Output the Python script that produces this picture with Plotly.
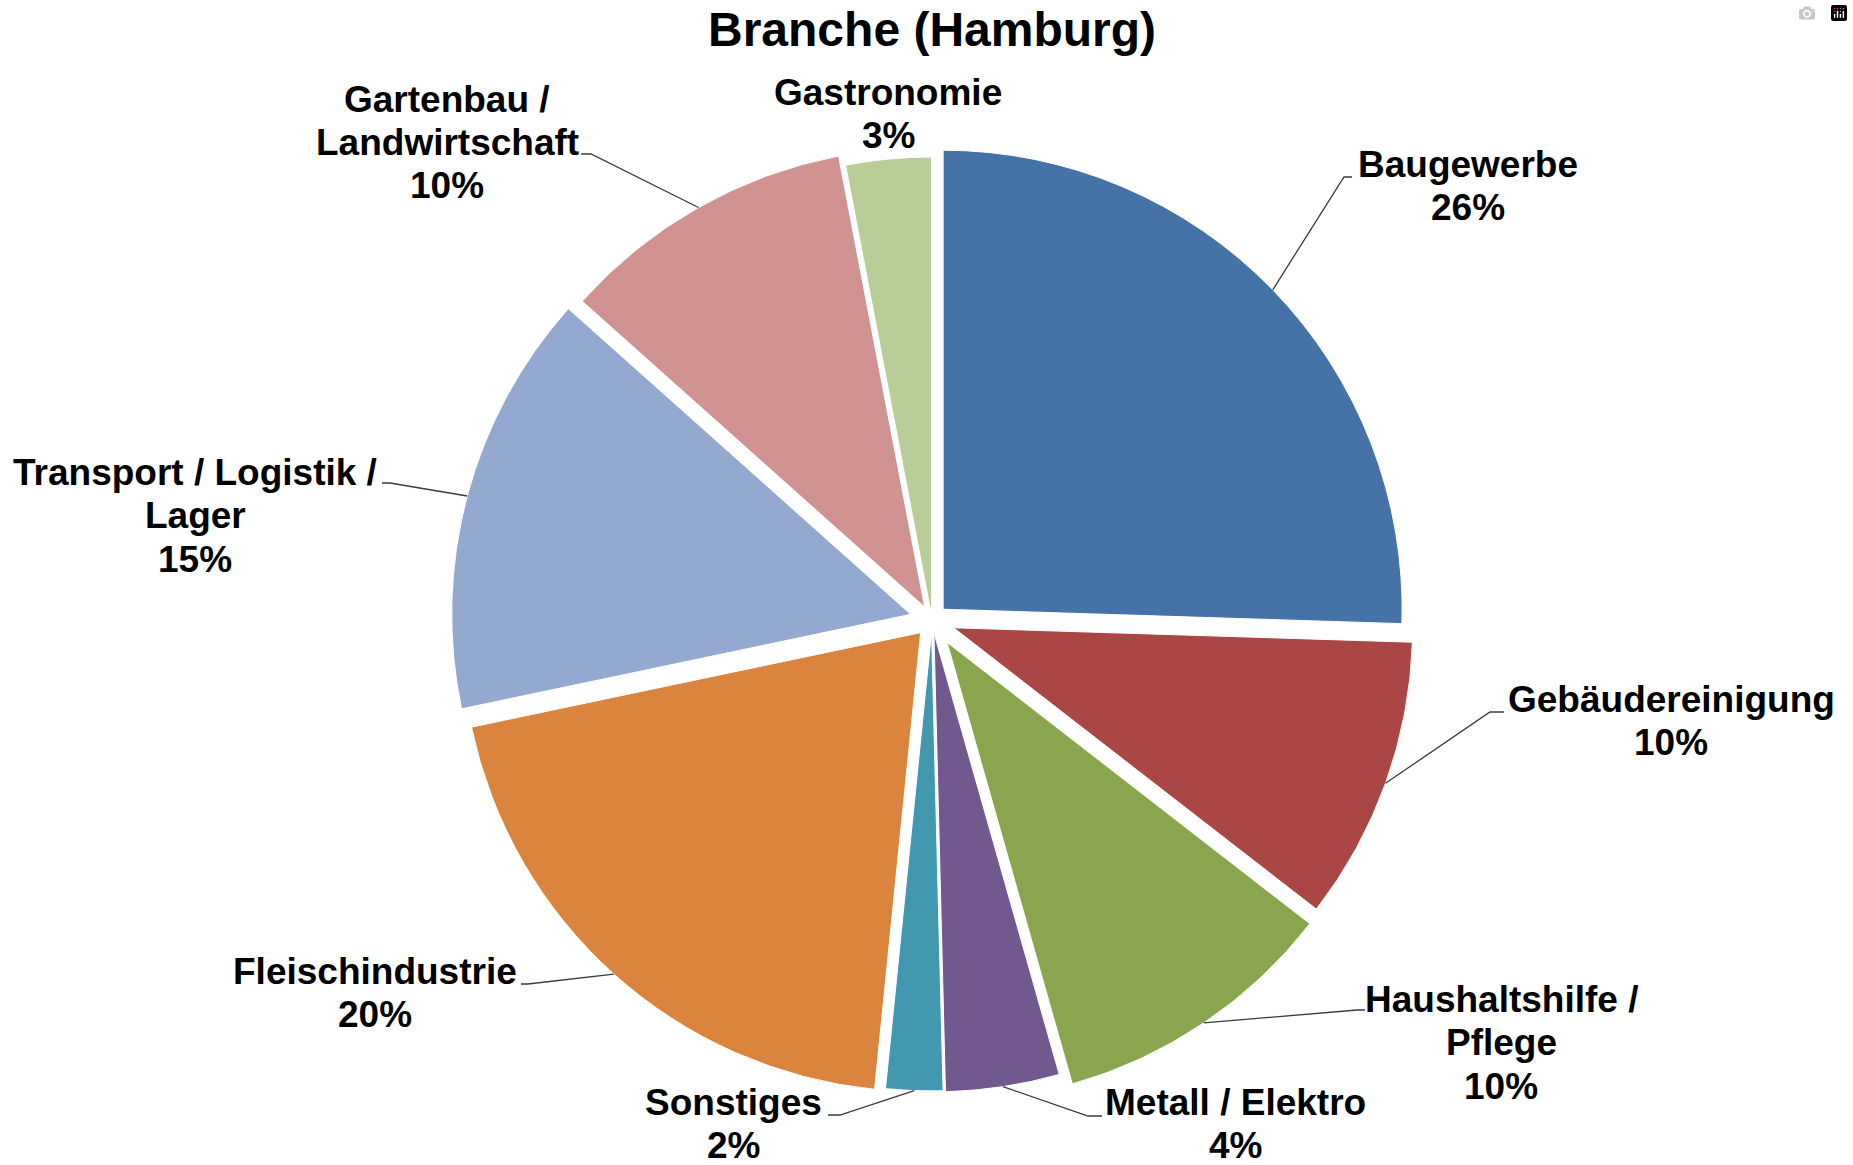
import math
import plotly.graph_objects as go

# ---------------- data ----------------
categories = ["Baugewerbe", "Gebäudereinigung", "Haushaltshilfe / Pflege", "Metall / Elektro",
              "Sonstiges", "Fleischindustrie", "Transport / Logistik / Lager",
              "Gartenbau / Landwirtschaft", "Gastronomie"]
label_lines = [["Baugewerbe"], ["Gebäudereinigung"], ["Haushaltshilfe /", "Pflege"],
               ["Metall / Elektro"], ["Sonstiges"], ["Fleischindustrie"],
               ["Transport / Logistik /", "Lager"], ["Gartenbau /", "Landwirtschaft"],
               ["Gastronomie"]]
values = [25.5, 10.0, 10.1, 4.0, 2.0, 20.1, 14.9, 10.4, 3.0]
title_text = "Branche (Hamburg)"

# ---------------- styles / layout ----------------
colors = ["#4572A7", "#AA4643", "#89A54E", "#71588F", "#4198AF",
          "#DB843D", "#93A9CF", "#D19392", "#B9CD96"]
# explosion of each slice, in pixels
pull_px = [15.5, 23, 27, 13, 12, 17, 22, 15, 4]
W, H = 1853, 1165
CX, CY, R = 932, 620, 459
FONT = "Liberation Sans, Arial, sans-serif"
FS = 37
LINE_H = 43.5

# label placement (pixel coords): centre x, first line y, leader end points (bend, end)
label_layout = {
    "Baugewerbe": (1468, 164, [(1344, 177), (1352, 177)]),
    "Gebäudereinigung": (1671, 699, [(1490, 712), (1504, 712)]),
    "Haushaltshilfe / Pflege": (1501, 999, [(1357, 1010), (1365, 1010)]),
    "Metall / Elektro": (1235, 1102, [(1088, 1116), (1102, 1116)]),
    "Sonstiges": (733, 1102, [(840, 1115), (828, 1115)]),
    "Fleischindustrie": (375, 971, [(528, 984), (521, 984)]),
    "Transport / Logistik / Lager": (195, 472, [(390, 483), (382, 483)]),
    "Gartenbau / Landwirtschaft": (447, 99, [(591, 154), (581, 154)]),
    "Gastronomie": (888, 92, None),
}


def px(x):
    return x / W


def py(y):
    return 1 - y / H


pulls = [p / R for p in pull_px]
half = R * (1 + max(pulls))
dom_x = [px(CX - half), px(CX + half)]
dom_y = [py(CY + half), py(CY - half)]

fig = go.Figure(go.Pie(
    labels=categories, values=values, sort=False, direction="clockwise", rotation=0,
    marker=dict(colors=colors, line=dict(color="white", width=1)),
    pull=pulls, textinfo="none", hoverinfo="label+percent",
    domain=dict(x=dom_x, y=dom_y), showlegend=False,
))

total = sum(values)
annotations = []
shapes = []
cum = 0.0
for cat, lines, v, pp in zip(categories, label_lines, values, pull_px):
    mid = 2 * math.pi * (cum + v / 2) / total
    cum += v
    share = round(v / total * 100, 6)
    pct = f"{math.floor(share + 0.5)}%"
    lx, ly, leader = label_layout[cat]
    all_lines = lines + [pct]
    for i, t in enumerate(all_lines):
        annotations.append(dict(
            x=px(lx), y=py(ly + i * LINE_H), xref="paper", yref="paper",
            text=t, showarrow=False, xanchor="center", yanchor="middle",
            font=dict(family=FONT, size=FS, color="black", weight="bold"),
        ))
    if leader:
        sx = CX + (pp + R) * math.sin(mid)
        sy = CY - (pp + R) * math.cos(mid)
        pts = [(sx, sy)] + leader
        path = "M " + " L ".join(f"{px(a):.5f},{py(b):.5f}" for a, b in pts)
        shapes.append(dict(type="path", path=path, xref="paper", yref="paper",
                           line=dict(color="#3a3a3a", width=1.3)))

annotations.append(dict(
    x=px(932), y=py(30), xref="paper", yref="paper", text=title_text,
    showarrow=False, xanchor="center", yanchor="middle",
    font=dict(family=FONT, size=48, color="black", weight="bold"),
))

fig.update_layout(
    width=W, height=H, margin=dict(l=0, r=0, t=0, b=0, pad=0),
    paper_bgcolor="white", plot_bgcolor="white",
    annotations=annotations, shapes=shapes,
)

fig.write_html("out.html", post_script="document.body.style.margin='0';")
